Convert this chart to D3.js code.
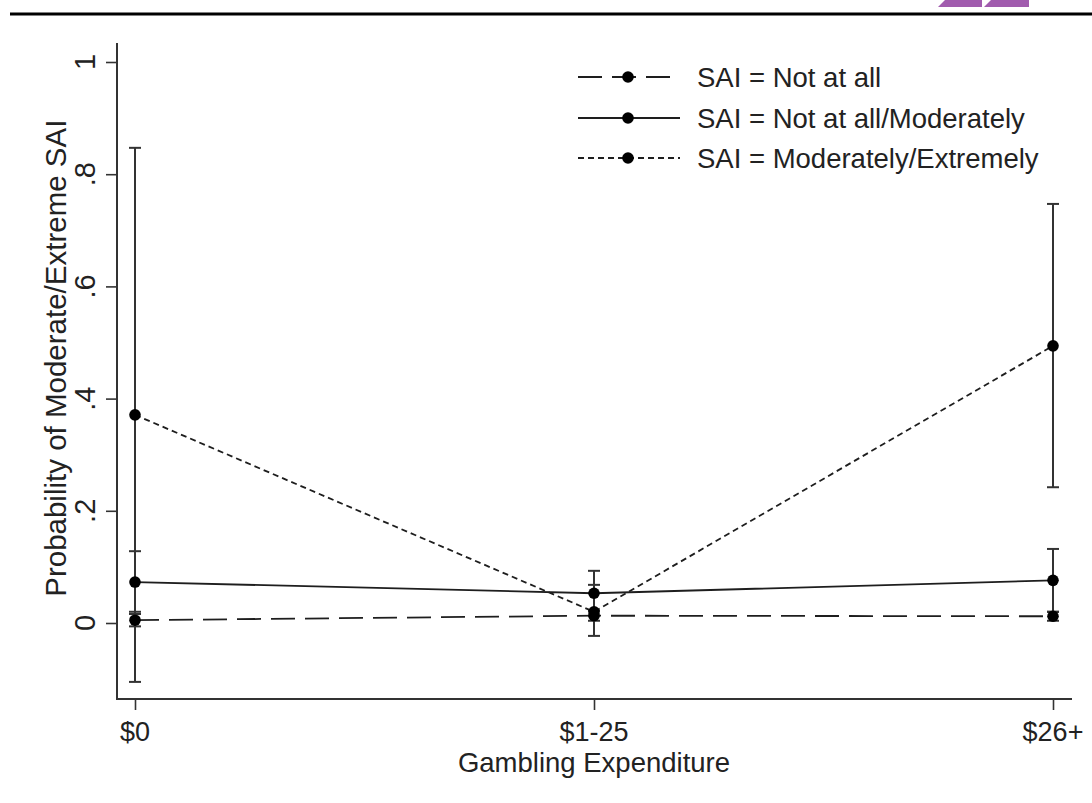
<!DOCTYPE html>
<html>
<head>
<meta charset="utf-8">
<script src="https://cdn.jsdelivr.net/npm/d3@7"></script>
<style>
  html, body { margin: 0; padding: 0; background: #fff; }
  svg { display: block; }
  text { font-family: "Liberation Sans", Arial, sans-serif; fill: #222; }
</style>
</head>
<body>
<svg id="chart" width="1092" height="803"></svg>
<script>
// Gambling expenditure groups on the x axis
const categories = ["$0", "$1-25", "$26+"];

// Predicted probability and 95% CI for each SAI group
const notAtAll      = [0.005, 0.013, 0.012];
const notAtAllLo    = [-0.006, 0.004, 0.004];
const notAtAllHi    = [0.016, 0.022, 0.020];

const notAtAllMod   = [0.073, 0.053, 0.076];
const notAtAllModLo = [0.020, 0.013, 0.020];
const notAtAllModHi = [0.128, 0.093, 0.132];

const modExt        = [0.371, 0.020, 0.494];
const modExtLo      = [-0.105, -0.023, 0.242];
const modExtHi      = [0.847, 0.068, 0.747];

const yTicks = [0, 0.2, 0.4, 0.6, 0.8, 1];
const yTickLabels = ["0", ".2", ".4", ".6", ".8", "1"];

const seriesNames = [
  "SAI = Not at all",
  "SAI = Not at all/Moderately",
  "SAI = Moderately/Extremely"
];

const series = [
  { name: seriesNames[0], v: notAtAll,    lo: notAtAllLo,    hi: notAtAllHi,    dash: "24,10" },
  { name: seriesNames[1], v: notAtAllMod, lo: notAtAllModLo, hi: notAtAllModHi, dash: null },
  { name: seriesNames[2], v: modExt,      lo: modExtLo,      hi: modExtHi,      dash: "6,4" }
];

const svg = d3.select("#chart");
const ink = "#1e1e1e";

// page header rule and corner badge
svg.append("line")
  .attr("x1", 10).attr("x2", 1092).attr("y1", 14).attr("y2", 14)
  .attr("stroke", "#000").attr("stroke-width", 3);
svg.append("polygon")
  .attr("points", "945,0 982,0 982,7 938,7").attr("fill", "#a15cae");
svg.append("polygon")
  .attr("points", "991,0 1029,0 1029,7 984,7").attr("fill", "#a15cae");

// scales
const x = d3.scalePoint().domain(categories).range([135, 1053]);
const y = d3.scaleLinear().domain([0, 1]).range([623, 62]);

const axisLeftX = 117;
const axisBottomY = 699;

// y axis
const yAxis = svg.append("g").attr("transform", `translate(${axisLeftX},0)`)
  .call(d3.axisLeft(y).tickValues(yTicks).tickSize(11).tickFormat(""));
yAxis.select(".domain").remove();
yAxis.selectAll(".tick line").attr("stroke", "#333").attr("stroke-width", 1.6);
svg.append("line")
  .attr("x1", axisLeftX).attr("x2", axisLeftX)
  .attr("y1", 43).attr("y2", axisBottomY + 1)
  .attr("stroke", "#333").attr("stroke-width", 2);

svg.selectAll(".ytl").data(yTicks).enter().append("text")
  .attr("class", "ytl")
  .attr("transform", d => `translate(95,${y(d)}) rotate(-90)`)
  .attr("text-anchor", "middle")
  .style("font-size", "29px")
  .text((d, i) => yTickLabels[i]);

// x axis
const xAxis = svg.append("g").attr("transform", `translate(0,${axisBottomY})`)
  .call(d3.axisBottom(x).tickSize(11).tickFormat(""));
xAxis.select(".domain").remove();
xAxis.selectAll(".tick line").attr("stroke", "#333").attr("stroke-width", 1.6);
svg.append("line")
  .attr("x1", axisLeftX - 1).attr("x2", 1072)
  .attr("y1", axisBottomY).attr("y2", axisBottomY)
  .attr("stroke", "#333").attr("stroke-width", 2);

svg.selectAll(".xtl").data(categories).enter().append("text")
  .attr("class", "xtl")
  .attr("x", d => x(d)).attr("y", 741)
  .attr("text-anchor", "middle")
  .style("font-size", "27px")
  .text(d => d);

// axis titles
svg.append("text")
  .attr("x", x(categories[1])).attr("y", 772)
  .attr("text-anchor", "middle")
  .style("font-size", "27.5px")
  .text("Gambling Expenditure");

svg.append("text")
  .attr("transform", `translate(66,${y(0.472)}) rotate(-90)`)
  .attr("text-anchor", "middle")
  .style("font-size", "29.5px")
  .text("Probability of Moderate/Extreme SAI");

// error bars
const capW = 6;
series.forEach(s => {
  const g = svg.append("g");
  categories.forEach((c, i) => {
    const cx = x(c);
    g.append("line").attr("x1", cx).attr("x2", cx)
      .attr("y1", y(s.lo[i])).attr("y2", y(s.hi[i]))
      .attr("stroke", "#333").attr("stroke-width", 2);
    [s.lo[i], s.hi[i]].forEach(v => {
      g.append("line").attr("x1", cx - capW).attr("x2", cx + capW)
        .attr("y1", y(v)).attr("y2", y(v))
        .attr("stroke", "#333").attr("stroke-width", 2);
    });
  });
});

// connecting lines and markers
const line = d3.line().x((d, i) => x(categories[i])).y(d => y(d));
series.forEach(s => {
  svg.append("path")
    .attr("d", line(s.v))
    .attr("fill", "none")
    .attr("stroke", ink)
    .attr("stroke-width", 1.8)
    .attr("stroke-dasharray", s.dash);
  svg.selectAll(null).data(s.v).enter().append("circle")
    .attr("cx", (d, i) => x(categories[i]))
    .attr("cy", d => y(d))
    .attr("r", 5.8)
    .attr("fill", "#000");
});

// legend
const legRows = [77, 118, 158];
const leg = svg.append("g");
series.forEach((s, i) => {
  const ry = legRows[i];
  leg.append("line")
    .attr("x1", 578).attr("x2", 680).attr("y1", ry).attr("y2", ry)
    .attr("stroke", ink).attr("stroke-width", 1.8)
    .attr("stroke-dasharray", s.dash);
  leg.append("circle").attr("cx", 628).attr("cy", ry).attr("r", 5.8).attr("fill", "#000");
  leg.append("text")
    .attr("x", 697).attr("y", ry + 10)
    .style("font-size", "27.5px")
    .text(s.name);
});
</script>
</body>
</html>
